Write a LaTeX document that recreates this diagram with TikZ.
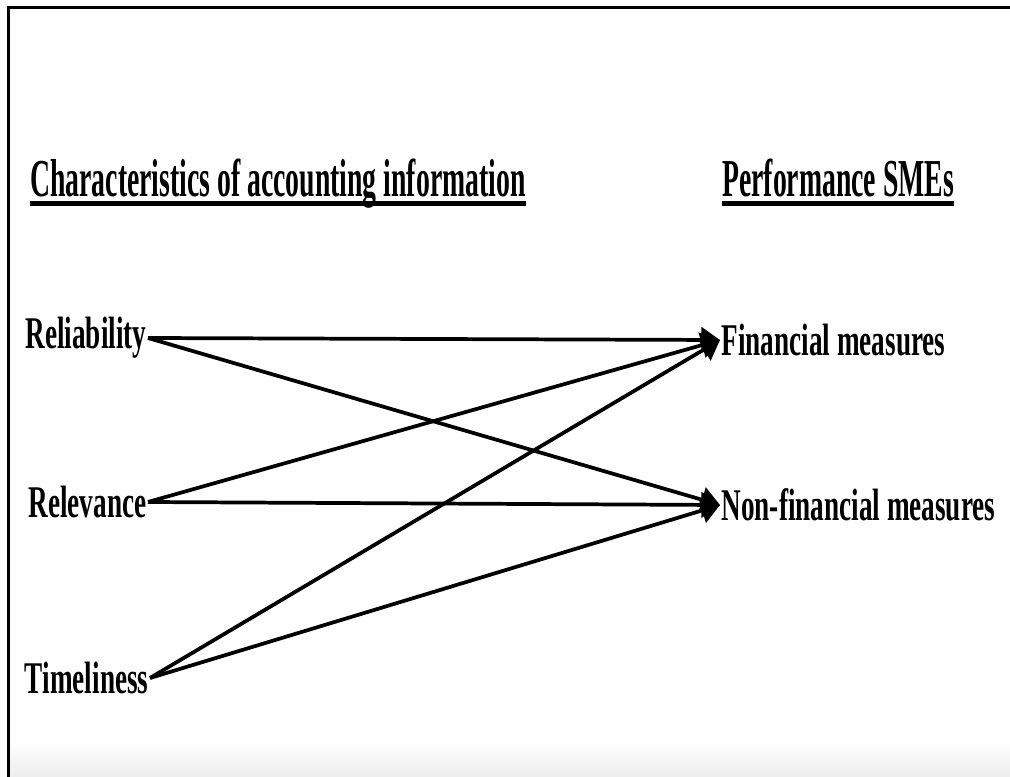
\documentclass[tikz,border=0pt]{standalone}
\usepackage{fontspec}
\setmainfont{Liberation Serif}
\newfontfamily\headfont[FakeStretch=0.52]{Liberation Serif}
\newfontfamily\itemfont[FakeStretch=0.6]{Liberation Serif}
\usetikzlibrary{arrows.meta}

\begin{document}
\begin{tikzpicture}[x=0.75pt,y=-0.75pt, head/.style={inner sep=0pt,anchor=base west,font=\headfont\bfseries\fontsize{40}{44}\selectfont}, item/.style={inner sep=1pt,font=\itemfont\bfseries\fontsize{34}{38}\selectfont}, arrow/.style={-{Triangle[length=14pt,width=19pt]},line width=2.8pt}, uline/.style={line width=3.8pt}]
       \useasboundingbox (0,0) rectangle (1010,777);
       \shade[top color=white,bottom color=black!7] (10,740) rectangle (1010,777);
       \draw[line width=2.2pt] (8.5,777) -- (8.5,7.5) -- (1010,7.5);

       \node[head] (chars) at (30,197) {Characteristics of accounting information};
       \node[head] (perf) at (722,197) {Performance SMEs};
       \draw[uline] ([yshift=-5pt]chars.base west) -- ([yshift=-5pt]chars.base east);
       \draw[uline] ([yshift=-5pt]perf.base west) -- ([yshift=-5pt]perf.base east);

       \node[item,anchor=east] (rel) at (148,338) {Reliability};
       \node[item,anchor=east] (relv) at (148,502) {Relevance};
       \node[item,anchor=east] (time) at (150,678) {Timeliness};
       \node[item,anchor=west] (fin) at (720,340) {Financial measures};
       \node[item,anchor=west] (nonfin) at (720,505) {Non-financial measures};

       \foreach \p in {rel,relv,time}{ \foreach \q in {fin,nonfin}{\draw[arrow] (\p.east) -- (\q.west); }}
     \end{tikzpicture}
\end{document}
